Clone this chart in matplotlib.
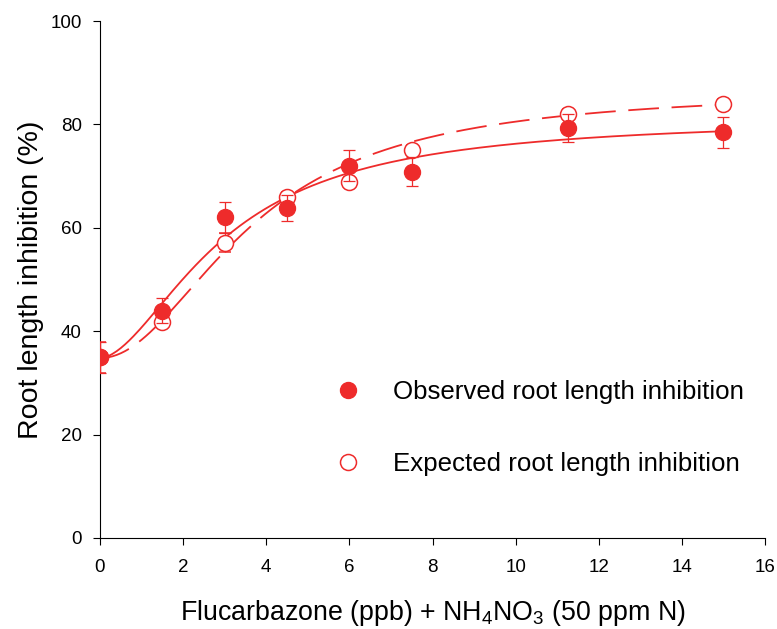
import numpy as np
import matplotlib
matplotlib.use("Agg")
import matplotlib.pyplot as plt
from matplotlib.lines import Line2D

plt.rcParams["font.family"] = ["Liberation Sans", "DejaVu Sans"]

# data
dose = [0, 1.5, 3, 4.5, 6, 7.5, 11.25, 15]
observed = [35.0, 44.0, 62.0, 63.8, 72.0, 70.8, 79.3, 78.5]
observed_err = [3.0, 2.5, 3.0, 2.5, 3.0, 2.8, 2.7, 3.0]
expected = [35.0, 41.8, 57.1, 66.0, 68.9, 75.0, 82.0, 84.0]
expected_err = [3.0, 1.0, 1.8, 1.0, 1.0, 1.0, 1.0, 1.0]

# fitted dose-response curves (lower, span, half dose, slope)
observed_fit = (34.8, 46.5, 3.0, 1.75)
expected_fit = (34.8, 52.0, 3.7, 2.0)

red = "#ee2b2b"


def hill(x, lo, span, x50, b):
    x = np.asarray(x, dtype=float)
    return lo + span * x**b / (x50**b + x**b)


fig = plt.figure(figsize=(7.77, 6.29), dpi=100)
ax = fig.add_axes([0.1287, 0.1447, 0.8559, 0.8219])

xs = np.linspace(0, 15, 300)
ax.plot(xs, hill(xs, *observed_fit), color=red, lw=1.3, zorder=2)
ax.plot(xs, hill(xs, *expected_fit), color=red, lw=1.3, dashes=(17, 7), zorder=2)

ax.errorbar(dose, expected, yerr=expected_err, fmt="o", ms=11.5, mfc="white",
            mec=red, mew=1.1, ecolor=red, elinewidth=0.9, capsize=4.5,
            capthick=0.9, zorder=3)
ax.errorbar(dose, observed, yerr=observed_err, fmt="o", ms=11.5, mfc=red,
            mec=red, ecolor=red, elinewidth=0.9, capsize=4.5, capthick=0.9,
            zorder=4)

ax.set_xlim(0, 16)
ax.set_ylim(0, 100)
ax.set_xticks(range(0, 17, 2))
ax.set_yticks(range(0, 101, 20))
ax.spines["top"].set_visible(False)
ax.spines["right"].set_visible(False)
ax.tick_params(direction="out", length=5, width=0.8, labelsize=13.5, pad=8)
ax.tick_params(axis="x", pad=10)
ax.set_ylabel("Root length inhibition (%)", fontsize=20.5, labelpad=5)
ax.set_xlabel(r"Flucarbazone (ppb) + NH$_\mathregular{4}$NO$_\mathregular{3}$ (50 ppm N)",
              fontsize=19.3, labelpad=16)

handles = [
    Line2D([], [], ls="none", marker="o", ms=11.5, mfc=red, mec=red),
    Line2D([], [], ls="none", marker="o", ms=11.5, mfc="white", mec=red, mew=1.1),
]
ax.legend(handles, ["Observed root length inhibition", "Expected root length inhibition"],
          loc="center left", bbox_to_anchor=(0.318, 0.212), frameon=False,
          fontsize=18.6, labelspacing=1.85, handletextpad=0.74, borderaxespad=0)

fig.savefig("out.png", dpi=100)
